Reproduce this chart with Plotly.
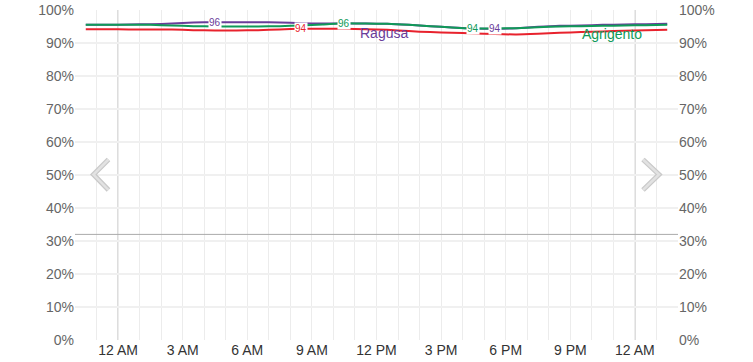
import plotly.graph_objects as go
import pandas as pd

# hourly observations, from 22:30 (day 0) to 01:30 (day 2)
times = pd.date_range("2024-05-31 22:30", "2024-06-02 01:30", freq="1h")

ragusa = [95.5, 95.5, 95.6, 95.7, 95.9, 96.2, 96.3, 96.3, 96.3, 96.2, 96.0, 95.9, 95.9, 95.9,
          95.8, 95.5, 95.1, 94.7, 94.4, 94.3, 94.5, 94.9, 95.2, 95.3, 95.5, 95.6, 95.7, 95.8]
agrigento = [95.5, 95.5, 95.5, 95.5, 95.3, 95.1, 95.0, 95.0, 95.0, 95.1, 95.3, 95.6, 96.0, 95.9,
             95.8, 95.5, 95.1, 94.7, 94.4, 94.4, 94.5, 94.8, 95.0, 95.1, 95.2, 95.3, 95.4, 95.5]
third = [94.2, 94.2, 94.1, 94.1, 94.1, 93.9, 93.8, 93.8, 93.9, 94.1, 94.3, 94.3, 94.3, 94.2,
         94.0, 93.6, 93.3, 93.1, 92.9, 92.7, 92.6, 92.8, 93.1, 93.3, 93.5, 93.7, 93.9, 94.0]

tick_times = pd.date_range("2024-06-01 00:00", "2024-06-02 00:00", freq="3h")
tick_labels = ["12 AM", "3 AM", "6 AM", "9 AM", "12 PM", "3 PM", "6 PM", "9 PM", "12 AM"]
midnights = ["2024-06-01 00:00", "2024-06-02 00:00"]
y_ticks = list(range(0, 101, 10))
y_labels = [f"{v}%" for v in y_ticks]
threshold = 32

# data labels: (series index, point index, text)
point_labels = [(0, 6, "96"), (2, 10, "94"), (1, 12, "96"), (1, 18, "94"), (0, 19, "94")]

PURPLE = "#6a3d9a"
GREEN = "#0f9a58"
RED = "#e8222d"

series = [("Ragusa", ragusa, PURPLE), ("Agrigento", agrigento, GREEN), ("Altro", third, RED)]

fig = go.Figure()
for idx in [2, 0, 1]:
    name, vals, col = series[idx]
    fig.add_trace(go.Scatter(x=times, y=vals, mode="lines", name=name,
                             line=dict(color=col, width=2, shape="spline", smoothing=0.6),
                             hoverinfo="skip"))
# mirrored trace for right axis
fig.add_trace(go.Scatter(x=[times[0]], y=[0], yaxis="y2", mode="markers",
                         marker=dict(opacity=0), showlegend=False, hoverinfo="skip"))

for si, pi, txt in point_labels:
    name, vals, col = series[si]
    fig.add_annotation(x=times[pi], y=vals[pi], text=txt, showarrow=False,
                       font=dict(size=10, color=col, family="Liberation Sans, Arial"),
                       bgcolor="white", borderpad=0)

fig.add_annotation(x=pd.Timestamp("2024-06-01 12:20"), y=93.0, text="Ragusa", showarrow=False,
                   font=dict(size=14, color=PURPLE, family="Liberation Sans, Arial"))
fig.add_annotation(x=pd.Timestamp("2024-06-01 22:55"), y=92.8, text="Agrigento", showarrow=False,
                   font=dict(size=14, color=GREEN, family="Liberation Sans, Arial"))

for m in midnights:
    fig.add_shape(type="line", x0=m, x1=m, y0=0, y1=1, yref="paper",
                  line=dict(color="#c4c4c4", width=1.3), layer="below")
fig.add_shape(type="line", x0=0, x1=1, xref="paper", y0=threshold, y1=threshold,
              line=dict(color="#aaaaaa", width=1))

# navigation chevrons (paper coords)
def px(x):
    return (x - 75) / 603

def py(y):
    return (340 - y) / 330

for pts in ([(108.5, 159.5), (93.5, 174.5), (108.5, 190)], [(643, 159.5), (659, 174.5), (643, 190)]):
    path = "M {} {} L {} {} L {} {}".format(px(pts[0][0]), py(pts[0][1]), px(pts[1][0]), py(pts[1][1]),
                                            px(pts[2][0]), py(pts[2][1]))
    fig.add_shape(type="path", path=path, xref="paper", yref="paper",
                  line=dict(color="#c9c9c9", width=5))
    fig.add_shape(type="path", path=path, xref="paper", yref="paper",
                  line=dict(color="#e2e2e2", width=2.5))

fig.update_layout(
    width=753, height=362,
    margin=dict(l=75, r=75, t=10, b=22, autoexpand=False),
    paper_bgcolor="white", plot_bgcolor="white",
    showlegend=False,
    font=dict(family="Liberation Sans, Arial", size=14, color="#666666"),
    xaxis=dict(type="date", automargin=False,
               range=["2024-05-31 22:00", "2024-06-02 02:00"],
               tickvals=tick_times, ticktext=tick_labels,
               tickfont=dict(size=14, color="#333333"),
               showgrid=True, gridcolor="#ececec", gridwidth=1,
               minor=dict(dtick=3600000, showgrid=True, gridcolor="#ececec",
                          tick0="2024-06-01 00:00"),
               zeroline=False, showline=False, ticks="", fixedrange=True),
    yaxis=dict(range=[0, 100], tickvals=y_ticks, ticktext=y_labels, automargin=False,
               showgrid=True, gridcolor="#f0f0f0", gridwidth=2,
               zeroline=False, showline=False, ticks="",
               tickfont=dict(size=14, color="#666666")),
    yaxis2=dict(range=[0, 100], tickvals=y_ticks, ticktext=y_labels, automargin=False,
                overlaying="y", side="right", showgrid=False, zeroline=False,
                tickfont=dict(size=14, color="#666666")),
)

fig.write_html("out.html")
